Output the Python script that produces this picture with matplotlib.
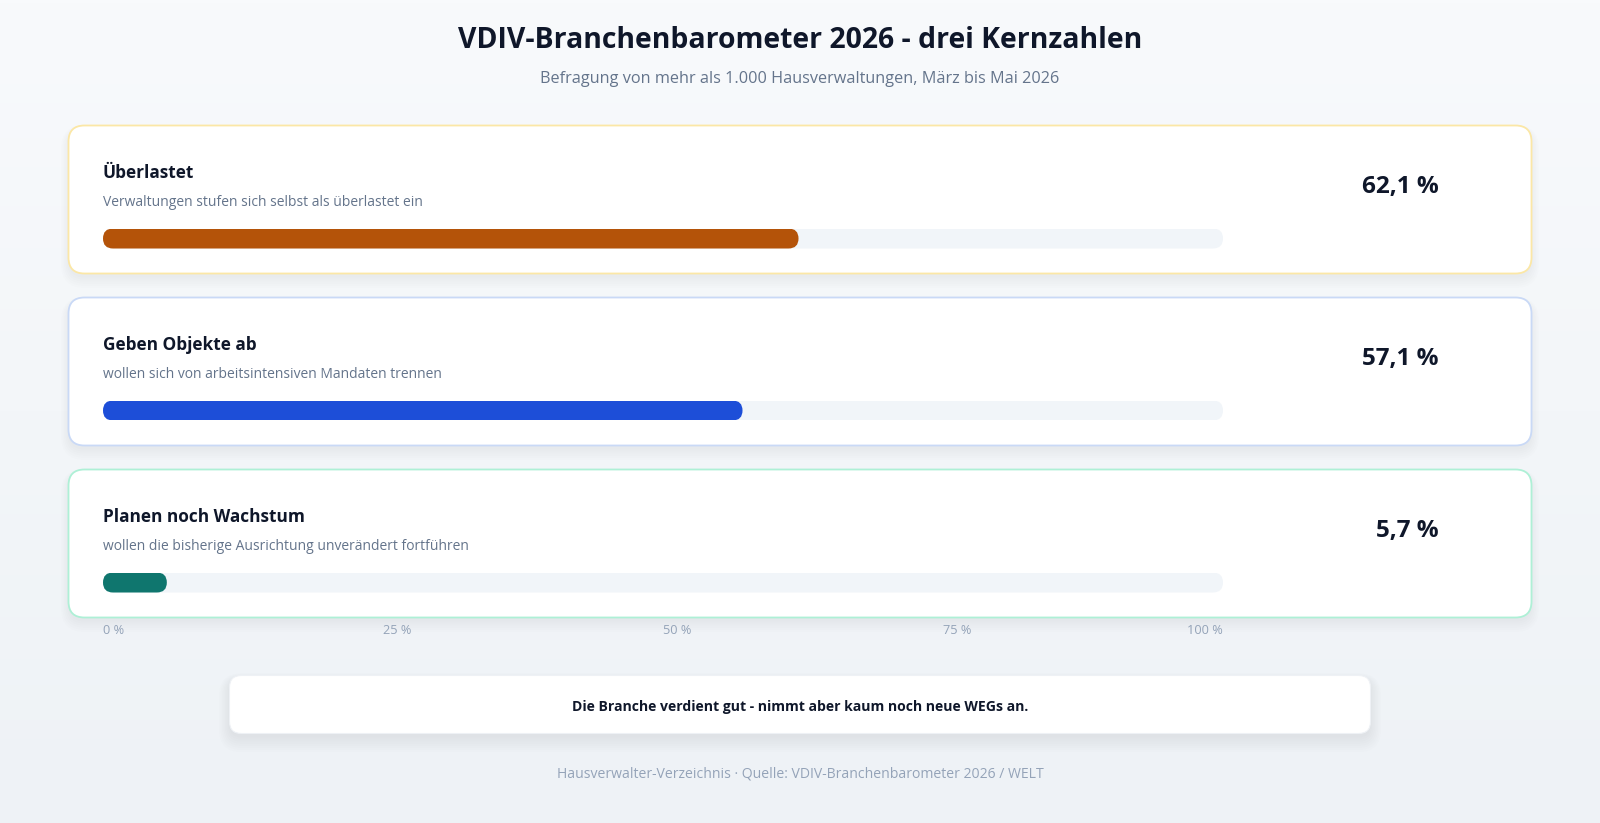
import numpy as np
import matplotlib
matplotlib.use("Agg")
import matplotlib.pyplot as plt
from matplotlib.patches import FancyBboxPatch
from matplotlib.colors import LinearSegmentedColormap
from matplotlib import transforms

plt.rcParams['font.family'] = ['Open Sans', 'DejaVu Sans']

# data
labels = ["Überlastet", "Geben Objekte ab", "Planen noch Wachstum"]
descriptions = ["Verwaltungen stufen sich selbst als überlastet ein",
                "wollen sich von arbeitsintensiven Mandaten trennen",
                "wollen die bisherige Ausrichtung unverändert fortführen"]
values = [62.1, 57.1, 5.7]
bar_colors = ["#b45309", "#1d4ed8", "#0f766e"]
border_colors = ["#fbe7a6", "#c9d9f6", "#aef0d6"]
ticks = [0, 25, 50, 75, 100]
tick_labels = ["0 %", "25 %", "50 %", "75 %", "100 %"]

title = "VDIV-Branchenbarometer 2026 - drei Kernzahlen"
subtitle = "Befragung von mehr als 1.000 Hausverwaltungen, März bis Mai 2026"
note = "Die Branche verdient gut - nimmt aber kaum noch neue WEGs an."
footer = "Hausverwalter-Verzeichnis · Quelle: VDIV-Branchenbarometer 2026 / WELT"

W, H = 1600, 823
DARK = "#0f172a"
MUTED = "#64748b"
LIGHT = "#94a3b8"


def px_rect(x, y, w, h):
    return [x / W, 1 - (y + h) / H, w / W, h / H]


def shadow(ax, x, y, w, h, r, dy=4, layers=7, alpha=0.010):
    for i in range(layers):
        g = i * 1.5
        ax.add_patch(FancyBboxPatch((x - g, y + dy - g * 0.6), w + 2 * g, h + 2 * g,
                                    boxstyle=f"round,pad=0,rounding_size={r + g}",
                                    fc=DARK, ec="none", alpha=alpha, zorder=1))


fig = plt.figure(figsize=(16, 8.23), dpi=100)
bg = fig.add_axes([0, 0, 1, 1])
bg.set_xlim(0, W)
bg.set_ylim(H, 0)
bg.axis('off')

grad = np.linspace(0, 1, 256).reshape(-1, 1)
cmap = LinearSegmentedColormap.from_list("bg", ["#f8fafc", "#eef2f6"])
bg.imshow(grad, extent=[0, W, H, 0], aspect='auto', cmap=cmap, zorder=0)

bg.text(W / 2, 48, title, ha='center', va='baseline', fontsize=20.4,
        fontweight='bold', color=DARK, zorder=5)
bg.text(W / 2, 82.5, subtitle, ha='center', va='baseline', fontsize=11.7,
        color=MUTED, zorder=5)

card_x, card_w, card_h = 68.5, 1463, 148
card_tops = [125.5, 297.5, 469.5]
track_x, track_w, track_h = 103, 1120, 20

bar_ax = None
for i in range(len(values)):
    top = card_tops[i]
    shadow(bg, card_x, top, card_w, card_h, 16, layers=6, alpha=0.008)
    bg.add_patch(FancyBboxPatch((card_x, top), card_w, card_h,
                                boxstyle="round,pad=0,rounding_size=16",
                                fc="white", ec=border_colors[i], lw=1.3, zorder=2))
    bg.text(track_x, top + 52.5, labels[i], ha='left', va='baseline',
            fontsize=12.4, fontweight='bold', color=DARK, zorder=5)
    bg.text(track_x, top + 80, descriptions[i], ha='left', va='baseline',
            fontsize=10.0, color=MUTED, zorder=5)
    val_txt = f"{values[i]:.1f}".replace('.', ',') + " %"
    bg.text(1439, top + 67, val_txt, ha='right', va='baseline',
            fontsize=17.5, fontweight='bold', color=DARK, zorder=5)

    # bar track in its own axes, 0-100 scale, equal px per unit on both axes
    bar_ax = fig.add_axes(px_rect(track_x, top + 103, track_w, track_h))
    hh = track_h / (track_w / 100)
    bar_ax.set_xlim(0, 100)
    bar_ax.set_ylim(0, hh)
    bar_ax.axis('off')
    bar_ax.patch.set_alpha(0)
    bar_ax.add_patch(FancyBboxPatch((0, 0), 100, hh,
                                    boxstyle=f"round,pad=0,rounding_size={hh / 2}",
                                    fc="#f1f5f9", ec="none"))
    bar_ax.add_patch(FancyBboxPatch((0, 0), values[i], hh,
                                    boxstyle=f"round,pad=0,rounding_size={hh / 2}",
                                    fc=bar_colors[i], ec="none"))

# percentage scale under the last card
trans = transforms.blended_transform_factory(bar_ax.transData, bg.transData)
for t, lab in zip(ticks, tick_labels):
    bg.text(t, 634, lab, transform=trans, ha='right' if t == 100 else 'left',
            va='baseline', fontsize=9.2, color=LIGHT, zorder=5)

# note box
box_x, box_y, box_w, box_h = 229.5, 675.5, 1141, 58
shadow(bg, box_x, box_y, box_w, box_h, 12, dy=4, layers=8, alpha=0.008)
bg.add_patch(FancyBboxPatch((box_x, box_y), box_w, box_h,
                            boxstyle="round,pad=0,rounding_size=12",
                            fc="white", ec="#eef1f5", lw=0.8, zorder=2))
bg.text(W / 2, 711, note, ha='center', va='baseline', fontsize=10.1,
        fontweight='bold', color=DARK, zorder=5)

bg.text(W / 2, 777.5, footer, ha='center', va='baseline', fontsize=10.1,
        color=LIGHT, zorder=5)

fig.savefig("out.png", dpi=100)
